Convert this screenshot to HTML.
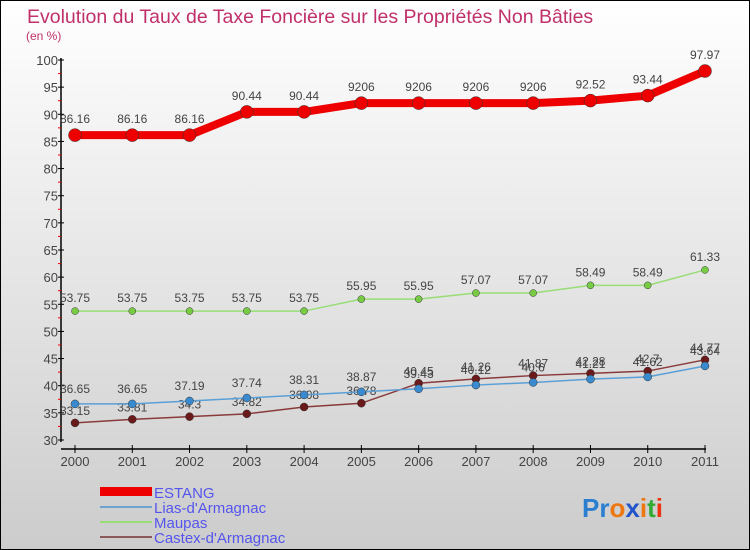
<!DOCTYPE html>
<html><head><meta charset="utf-8"><style>
body{margin:0}
#wrap{width:750px;height:550px;position:relative;overflow:hidden}
svg text{font-family:"Liberation Sans",sans-serif}
</style></head><body>
<div id="wrap">
<svg id="chart" width="750" height="550" xmlns="http://www.w3.org/2000/svg">
<defs><linearGradient id="bg" x1="0" y1="0" x2="0" y2="1"><stop offset="0" stop-color="#ffffff"/><stop offset="1" stop-color="#cccccc"/></linearGradient></defs>
<rect x="0.5" y="0.5" width="749" height="549" fill="url(#bg)" stroke="#000"/>
<text x="27" y="23" font-size="19.5" fill="#c0306a">Evolution du Taux de Taxe Foncière sur les Propriétés Non Bâties</text>
<text x="26" y="40" font-size="12" fill="#c0306a">(en %)</text>
<g id="axes"></g><g id="series"></g>
<g>
<rect x="100" y="487" width="52" height="9" fill="#ee0000"/>
<text x="154" y="498" font-size="15" fill="#5555ee">ESTANG</text>
<rect x="100" y="506" width="52" height="2" fill="#6fa3cf"/>
<text x="154" y="513" font-size="15" fill="#5555ee">Lias-d'Armagnac</text>
<rect x="100" y="521" width="52" height="2" fill="#99dd77"/>
<text x="154" y="528" font-size="15" fill="#5555ee">Maupas</text>
<rect x="100" y="536" width="52" height="2" fill="#8a5a5a"/>
<text x="154" y="543" font-size="15" fill="#5555ee">Castex-d'Armagnac</text>
</g>
<text x="582" y="517" font-size="26" font-weight="bold"><tspan fill="#2a7fd0">Pr</tspan><tspan fill="#ee7711">o</tspan><tspan fill="#2255cc">x</tspan><tspan fill="#ee7711">i</tspan><tspan fill="#33aa33">t</tspan><tspan fill="#ee3311">i</tspan></text>
</svg></div>
<script>
const years=[2000,2001,2002,2003,2004,2005,2006,2007,2008,2009,2010,2011];
const estang=[86.16,86.16,86.16,90.44,90.44,92.06,92.06,92.06,92.06,92.52,93.44,97.97];
const estangLabels=["86.16","86.16","86.16","90.44","90.44","9206","9206","9206","9206","92.52","93.44","97.97"];
const maupas=[53.75,53.75,53.75,53.75,53.75,55.95,55.95,57.07,57.07,58.49,58.49,61.33];
const lias=[36.65,36.65,37.19,37.74,38.31,38.87,39.43,40.12,40.6,41.21,41.62,43.64];
const castex=[33.15,33.81,34.3,34.82,36.08,36.78,40.45,41.26,41.87,42.28,42.7,44.77];
const yTicks=[30,35,40,45,50,55,60,65,70,75,80,85,90,95,100];
const NS="http://www.w3.org/2000/svg";
const X=i=>75+i*(705-75)/11;
const Y=v=>440-(v-30)*(440-60)/70;
function mk(tag,attrs,parent){const e=document.createElementNS(NS,tag);for(const k in attrs)e.setAttribute(k,attrs[k]);parent.appendChild(e);return e;}
const ax=document.getElementById('axes'), sg=document.getElementById('series');
let l=mk('line',{x1:61,y1:58,x2:61,y2:442,stroke:'#000','stroke-width':1.5},ax);


l=mk('line',{x1:61,y1:449,x2:706,y2:449,stroke:'#000','stroke-width':1.5},ax);


yTicks.forEach(v=>{
  mk('line',{x1:58,y1:Y(v),x2:64,y2:Y(v),stroke:'#000'},ax);
  if(v<100) mk('line',{x1:58,y1:Y(v+2.5),x2:61,y2:Y(v+2.5),stroke:'#e00'},ax);
  const t=mk('text',{x:58,y:Y(v)+5,'font-size':13,'text-anchor':'end',fill:'#444'},ax);
  t.textContent=v;
  
  
});
years.forEach((yr,i)=>{
  mk('line',{x1:X(i),y1:445,x2:X(i),y2:453,stroke:'#000'},ax);
  const t=mk('text',{x:X(i),y:466,'font-size':13,'text-anchor':'middle',fill:'#444'},ax);
  t.textContent=yr;
  
  
});
function series(data,labels,color,dot,width,r,name,dy){
  const g=mk('g',{},sg);
  
  
  const p=mk('polyline',{points:data.map((v,i)=>X(i)+','+Y(v)).join(' '),fill:'none',stroke:color,'stroke-width':width,'stroke-linejoin':'round'},g);
  
  
  data.forEach((v,i)=>{
    const c=mk('circle',{cx:X(i),cy:Y(v),r:r,fill:dot,stroke:'#333','stroke-width':0.5},g);
    
    
    const t=mk('text',{x:X(i),y:Y(v)+dy,'font-size':12,'text-anchor':'middle',fill:'#444'},g);
    t.textContent=labels?labels[i]:String(v);
    
    
  });
}
series(castex,null,'#8a3a3a','#6a1a1a',1.5,4,'castex',-8);
series(lias,null,'#5aa0d8','#3a8ad0',1.5,4,'lias',-11);
series(maupas,null,'#99dd77','#77cc44',1.5,3.5,'maupas',-9);
series(estang,estangLabels,'#ee0000','#ee0000',8,6.5,'estang',-12);
</script>
</body></html>
